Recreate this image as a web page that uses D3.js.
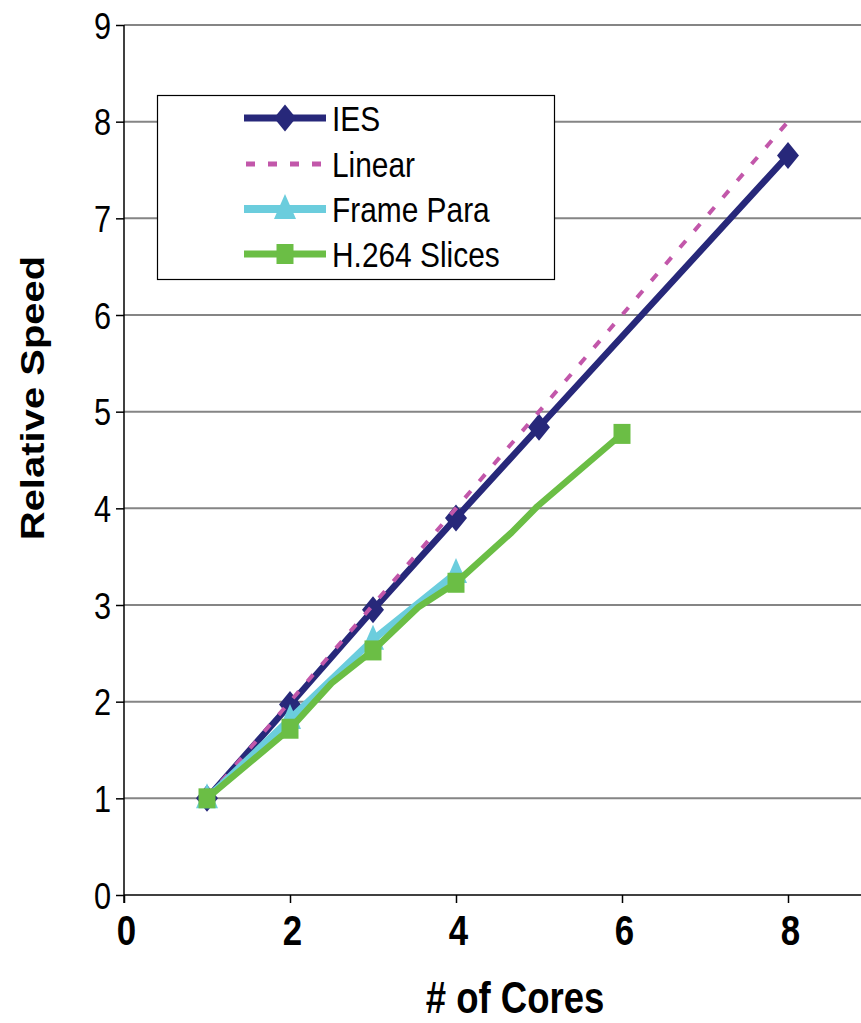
<!DOCTYPE html>
<html>
<head>
<meta charset="utf-8">
<script src="https://cdn.jsdelivr.net/npm/d3@7"></script>
<style>
  html, body { margin: 0; padding: 0; background: #fff; }
  svg { display: block; font-family: "Liberation Sans", Arial, sans-serif; }
</style>
</head>
<body>
<svg id="chart" width="861" height="1023"></svg>
<script>
// Speed-up measurements per number of cores
const xTicks = [0, 2, 4, 6, 8];
const yTicks = [0, 1, 2, 3, 4, 5, 6, 7, 8, 9];

const iesCores = [1, 2, 3, 4, 5, 8];
const iesSpeed = [1.0, 1.97, 2.95, 3.9, 4.84, 7.65];

const linearCores = [1, 2, 3, 4, 5, 6, 7, 8];
const linearSpeed = [1, 2, 3, 4, 5, 6, 7, 8];

const frameCores = [1, 2, 3, 4];
const frameSpeed = [1.0, 1.82, 2.64, 3.33];

// H.264 slices: line vertices, markers only at whole core counts
const slicesCores = [1, 2, 2.5, 3, 3.55, 4, 4.67, 4.98, 6];
const slicesSpeed = [1.0, 1.72, 2.19, 2.53, 2.98, 3.23, 3.75, 4.02, 4.77];

const seriesNames = ["IES", "Linear", "Frame Para", "H.264 Slices"];

const colors = {
  ies: "#27287A",
  linear: "#C257AA",
  frame: "#6BCDDD",
  slices: "#6BBE45"
};

const squeeze = 0.83; // horizontal text compression

const svg = d3.select("#chart");

const x = d3.scaleLinear().domain([0, 9]).range([124, 871]);
const y = d3.scaleLinear().domain([0, 9]).range([895, 25]);

// Gridlines
svg.append("g")
  .selectAll("line")
  .data(yTicks.filter(d => d > 0))
  .join("line")
  .attr("x1", x(0)).attr("x2", 861)
  .attr("y1", d => y(d)).attr("y2", d => y(d))
  .attr("stroke", "#858585").attr("stroke-width", 2);

// Y axis
const yAxis = svg.append("g").attr("transform", `translate(${x(0)},0)`)
  .call(d3.axisLeft(y).tickValues(yTicks).tickSize(8).tickFormat(d3.format("d")));
yAxis.select(".domain").attr("stroke", "#000").attr("stroke-width", 1.5)
  .attr("d", `M0,${y(9)}V${y(0) + 8}`);
yAxis.selectAll(".tick line").attr("stroke", "#000").attr("stroke-width", 1.5);
yAxis.selectAll(".tick text")
  .attr("x", null).attr("dy", null)
  .attr("transform", `translate(-13,13) scale(${squeeze},1)`)
  .attr("font-size", 37).attr("fill", "#000")
  .attr("font-family", "Liberation Sans, Arial, sans-serif");

// X axis
const xAxis = svg.append("g").attr("transform", `translate(0,${y(0)})`)
  .call(d3.axisBottom(x).tickValues(xTicks).tickSize(8).tickFormat(d3.format("d")));
xAxis.select(".domain").attr("stroke", "#000").attr("stroke-width", 1.5)
  .attr("d", `M${x(0)},0H861`);
xAxis.selectAll(".tick line").attr("stroke", "#000").attr("stroke-width", 1.5);
xAxis.selectAll(".tick text")
  .attr("y", null).attr("dy", null)
  .attr("transform", `translate(2,50) scale(${squeeze},1)`)
  .attr("font-size", 42).attr("font-weight", "bold").attr("fill", "#000")
  .attr("font-family", "Liberation Sans, Arial, sans-serif");

// Axis titles
svg.append("text")
  .attr("transform", `translate(515,1013) scale(${squeeze},1)`)
  .attr("text-anchor", "middle").attr("font-size", 44).attr("font-weight", "bold")
  .text("# of Cores");

svg.append("text")
  .attr("transform", `translate(44,398) scale(${squeeze},1) rotate(-90)`)
  .attr("text-anchor", "middle").attr("font-size", 40).attr("font-weight", "bold")
  .text("Relative Speed");

// Marker shapes (slightly compressed horizontally)
const diamond = "M0,-13.5L11,0L0,13.5L-11,0Z";
const triangle = "M0,-15L11,10L-11,10Z";
const square = "M-8.5,-10H8.5V10H-8.5Z";

const line = d3.line().x(d => x(d[0])).y(d => y(d[1]));
const zip = (a, b) => a.map((v, i) => [v, b[i]]);

const plot = svg.append("g");

// IES
plot.append("path").datum(zip(iesCores, iesSpeed))
  .attr("d", line).attr("fill", "none")
  .attr("stroke", colors.ies).attr("stroke-width", 6.5).attr("stroke-linejoin", "round");
plot.append("g").selectAll("path").data(zip(iesCores, iesSpeed)).join("path")
  .attr("d", diamond).attr("fill", colors.ies)
  .attr("transform", d => `translate(${x(d[0])},${y(d[1])})`);

// Linear reference
plot.append("path").datum(zip(linearCores, linearSpeed))
  .attr("d", line).attr("fill", "none")
  .attr("stroke", colors.linear).attr("stroke-width", 4)
  .attr("stroke-dasharray", "9,13");

// Frame parallel
plot.append("path").datum(zip(frameCores, frameSpeed))
  .attr("d", line).attr("fill", "none")
  .attr("stroke", colors.frame).attr("stroke-width", 7).attr("stroke-linejoin", "round");
plot.append("g").selectAll("path").data(zip(frameCores, frameSpeed)).join("path")
  .attr("d", triangle).attr("fill", colors.frame)
  .attr("transform", d => `translate(${x(d[0])},${y(d[1])})`);

// H.264 slices
const slicesPts = zip(slicesCores, slicesSpeed);
plot.append("path").datum(slicesPts)
  .attr("d", line).attr("fill", "none")
  .attr("stroke", colors.slices).attr("stroke-width", 6.5).attr("stroke-linejoin", "round");
plot.append("g").selectAll("path").data(slicesPts.filter(d => Number.isInteger(d[0]))).join("path")
  .attr("d", square).attr("fill", colors.slices)
  .attr("transform", d => `translate(${x(d[0])},${y(d[1])})`);

// Legend
const legend = svg.append("g");
legend.append("rect")
  .attr("x", 157.5).attr("y", 95.5).attr("width", 397).attr("height", 184)
  .attr("fill", "#fff").attr("stroke", "#000").attr("stroke-width", 1.2);

const legendRows = [118, 164, 209, 254];
const legendStyle = [
  { color: colors.ies, width: 7, dash: null, marker: diamond },
  { color: colors.linear, width: 5, dash: "9,13", marker: null },
  { color: colors.frame, width: 8, dash: null, marker: triangle },
  { color: colors.slices, width: 7, dash: null, marker: square }
];

seriesNames.forEach((name, i) => {
  const ly = legendRows[i];
  const st = legendStyle[i];
  const l = legend.append("line")
    .attr("x1", st.dash ? 246 : 244).attr("x2", 326)
    .attr("y1", ly).attr("y2", ly)
    .attr("stroke", st.color).attr("stroke-width", st.width);
  if (st.dash) l.attr("stroke-dasharray", st.dash);
  if (st.marker) {
    legend.append("path").attr("d", st.marker).attr("fill", st.color)
      .attr("transform", `translate(285,${ly})`);
  }
  legend.append("text")
    .attr("transform", `translate(332,${ly + 13}) scale(${squeeze},1)`)
    .attr("font-size", 36).attr("fill", "#000")
    .text(name);
});
</script>
</body>
</html>
